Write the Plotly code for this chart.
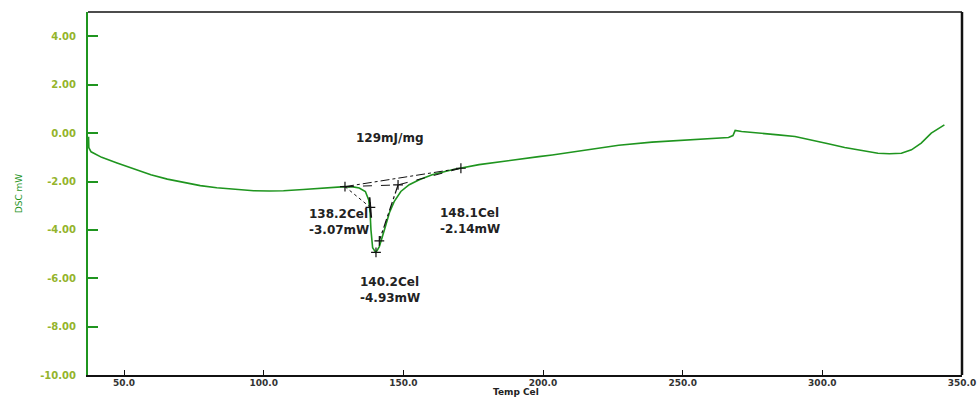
import plotly.graph_objects as go

# ---- data ----
temp = [37.3, 37.4, 38.2, 42.0, 47.5, 53.5, 59.6, 65.5, 71.4, 77.3, 83.2, 90.0, 96.4, 102.0,
        107.1, 114.2, 120.0, 125.0, 129.1, 132.0, 134.2, 136.4, 137.6, 138.1, 138.4, 139.0,
        139.6, 140.1, 140.6, 141.4, 143.2, 145.0, 146.7, 149.1, 152.1, 155.7, 160.3, 167.5,
        177.1, 191.4, 198.5, 203.3, 215.2, 227.1, 239.0, 250.9, 259.2, 266.4, 268.0, 268.8,
        271.1, 275.9, 284.2, 290.2, 296.1, 302.1, 308.0, 314.0, 319.9, 324.0, 328.3, 331.9,
        335.4, 339.0, 343.7]
dsc = [-0.15, -0.60, -0.77, -1.00, -1.23, -1.48, -1.72, -1.90, -2.05, -2.17, -2.26, -2.33,
       -2.38, -2.39, -2.38, -2.33, -2.28, -2.24, -2.21, -2.22, -2.27, -2.41, -2.76, -3.29,
       -4.00, -4.74, -4.88, -4.93, -4.85, -4.69, -4.00, -3.29, -2.83, -2.41, -2.13, -1.93,
       -1.72, -1.51, -1.30, -1.10, -0.97, -0.90, -0.69, -0.50, -0.37, -0.28, -0.22, -0.18,
       -0.10, 0.11, 0.07, 0.03, -0.07, -0.14, -0.30, -0.44, -0.59, -0.72, -0.83, -0.85,
       -0.83, -0.69, -0.41, 0.0, 0.34]

# analysis construction lines
baseline_x = [129.1, 170.6]
baseline_y = [-2.21, -1.45]
base2_x = [129.1, 148.1, 170.6]
base2_y = [-2.21, -2.14, -1.45]
left_x = [129.1, 138.2]
left_y = [-2.21, -3.07]
left_tan_x = [137.9, 138.5]
left_tan_y = [-2.65, -3.50]
right_x = [148.1, 141.4]
right_y = [-2.14, -4.45]
mark_x = [129.1, 170.6, 138.2, 140.2, 148.1, 141.4]
mark_y = [-2.21, -1.45, -3.07, -4.93, -2.14, -4.45]

ytick_vals = [-10, -8, -6, -4, -2, 0, 2, 4]
xtick_vals = [50, 100, 150, 200, 250, 300, 350]

GREEN = "#1f951f"
LABEL_GREEN = "#94b42c"
TXT = "#222222"

fig = go.Figure()
fig.add_trace(go.Scatter(x=temp, y=dsc, mode="lines",
                         line=dict(color=GREEN, width=1.6), showlegend=False))
fig.add_trace(go.Scatter(x=baseline_x, y=baseline_y, mode="lines",
                         line=dict(color="#111111", width=1, dash="dashdot"), showlegend=False))
fig.add_trace(go.Scatter(x=base2_x, y=base2_y, mode="lines",
                         line=dict(color="#111111", width=1, dash="dash"), showlegend=False))
fig.add_trace(go.Scatter(x=left_x, y=left_y, mode="lines",
                         line=dict(color="#111111", width=1, dash="dot"), showlegend=False))
fig.add_trace(go.Scatter(x=left_tan_x, y=left_tan_y, mode="lines",
                         line=dict(color="#111111", width=1.8), showlegend=False))
fig.add_trace(go.Scatter(x=right_x, y=right_y, mode="lines",
                         line=dict(color="#111111", width=1.2, dash="dashdot"), showlegend=False))
fig.add_trace(go.Scatter(x=mark_x, y=mark_y, mode="markers",
                         marker=dict(symbol="cross-thin", size=7,
                                     line=dict(color="#111111", width=1.2)),
                         showlegend=False))

font_ann = dict(family="DejaVu Sans", size=12, color=TXT, weight="bold")
fig.add_annotation(x=145.2, y=-0.19, text="129mJ/mg", showarrow=False,
                   font=font_ann, xanchor="center", yanchor="middle")
fig.add_annotation(x=115.5, y=-3.67, text="138.2Cel<br>-3.07mW", showarrow=False,
                   font=font_ann, xanchor="left", yanchor="middle", align="left")
fig.add_annotation(x=162.4, y=-3.62, text="148.1Cel<br>-2.14mW", showarrow=False,
                   font=font_ann, xanchor="left", yanchor="middle", align="left")
fig.add_annotation(x=133.8, y=-6.47, text="140.2Cel<br>-4.93mW", showarrow=False,
                   font=font_ann, xanchor="left", yanchor="middle", align="left")

# x axis title (placed below the tick labels, as in the reference)
fig.add_annotation(xref="paper", yref="paper", x=0.49, y=-0.063, text="Temp Cel",
                   showarrow=False, xanchor="center", yanchor="bottom", borderpad=0,
                   font=dict(family="DejaVu Sans", size=9, color="#222222", weight="bold"))

# top and right frame lines (black)
fig.add_shape(type="line", xref="paper", yref="paper", x0=0, x1=1, y0=1, y1=1,
              line=dict(color="#111111", width=1.5))
fig.add_shape(type="line", xref="paper", yref="paper", x0=1, x1=1, y0=0, y1=1,
              line=dict(color="#111111", width=2.5))

fig.update_layout(
    width=980, height=398,
    margin=dict(l=88, r=18, t=12, b=23),
    paper_bgcolor="white", plot_bgcolor="white",
    font=dict(family="DejaVu Sans", size=9, color=TXT),
    xaxis=dict(range=[37.1, 350], tickvals=xtick_vals, automargin=False,
               ticktext=[f"{v:.1f}" for v in xtick_vals],
               showgrid=False, zeroline=False, showline=True,
               linecolor="#111111", linewidth=2,
               ticks="inside", ticklen=5, tickwidth=1.2, tickcolor="#111111",
               ticklabelstandoff=-2,
               tickfont=dict(family="DejaVu Sans", size=9, color="#333333", weight="bold")),
    yaxis=dict(range=[-10, 5.01], tickvals=ytick_vals, automargin=False,
               ticktext=[f"{v:.2f}" for v in ytick_vals],
               showgrid=False, zeroline=False, showline=True,
               linecolor=GREEN, linewidth=2,
               ticks="inside", ticklen=10, tickwidth=1.5, tickcolor=GREEN,
               ticklabelstandoff=8,
               tickfont=dict(family="DejaVu Sans", size=10, color=LABEL_GREEN, weight="bold"),
               title=dict(text="DSC mW", standoff=16,
                          font=dict(family="DejaVu Sans", size=9, color=GREEN))),
)

fig.write_html("out.html")
